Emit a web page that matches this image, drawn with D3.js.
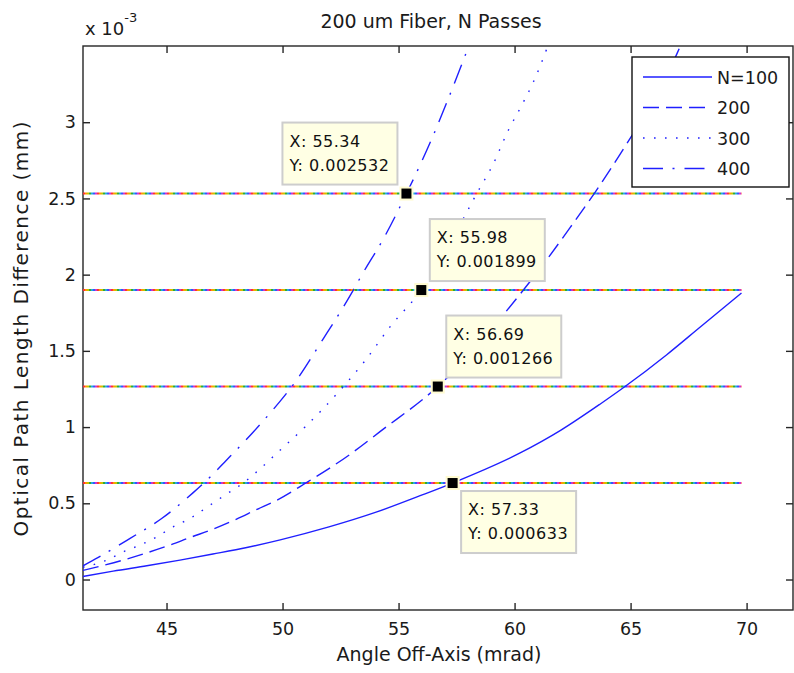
<!DOCTYPE html>
<html>
<head>
<meta charset="utf-8">
<script src="https://cdn.jsdelivr.net/npm/d3@7/dist/d3.min.js"></script>
<style>
  body { margin: 0; background: #fff; }
  svg { display: block; font-family: "DejaVu Sans", sans-serif; }
</style>
</head>
<body>
<svg id="chart" width="794" height="673"></svg>
<script>
// ---- data -------------------------------------------------------------
const xTicks = [45, 50, 55, 60, 65, 70];
const yTicks = [0, 0.0005, 0.001, 0.0015, 0.002, 0.0025, 0.003];
const yTickLabels = ["0", "0.5", "1", "1.5", "2", "2.5", "3"];
const xDomain = [41.4, 72];
const yDomain = [-0.0002, 0.0035];

const seriesNames = ["N=100", "200", "300", "400"];

// angle off-axis (mrad) and optical path length difference (mm)
const angle100 = [41.4, 42.7, 44.15, 45.58, 47.0, 48.46, 49.9, 52.0, 54.0, 55.93, 57.33, 60.24, 62.0, 63.68, 64.76, 66.56, 67.99, 69.78];
const opd100   = [0.00002, 0.000055, 0.00009, 0.000127, 0.000167, 0.00021, 0.00026, 0.000345, 0.00044, 0.00055, 0.000633, 0.00083, 0.00098, 0.00115, 0.001266, 0.001475, 0.001655, 0.00188];

const angle200 = [41.4, 42.2, 43.3, 44.15, 45.15, 46.0, 47.0, 48.0, 48.9, 49.75, 51.0, 52.9, 54.2, 56.69, 58.0, 59.45, 61.3, 62.4, 63.47, 64.84, 66.0, 67.0, 67.2];
const opd200   = [0.00006, 0.00009, 0.000135, 0.000175, 0.000226, 0.000275, 0.00033, 0.000395, 0.00046, 0.00052, 0.000633, 0.00082, 0.00097, 0.001266, 0.001463, 0.001724, 0.00208, 0.00231, 0.00254, 0.00286, 0.00315, 0.00345, 0.00352];

const angle300 = [41.4, 42.42, 43.14, 43.86, 44.58, 45.29, 46.01, 46.73, 47.45, 48.3, 49.9, 50.97, 51.69, 52.62, 53.55, 54.63, 55.98, 57.2, 58.37, 59.09, 59.73, 60.31, 60.81, 61.39, 61.5];
const opd300   = [0.00008, 0.000127, 0.000182, 0.000226, 0.00028, 0.000346, 0.0004, 0.000473, 0.000547, 0.000633, 0.000849, 0.001001, 0.001111, 0.001266, 0.001434, 0.001657, 0.001899, 0.0022, 0.002532, 0.002729, 0.002947, 0.003111, 0.003264, 0.003483, 0.00353];

const angle400 = [41.4, 42.06, 43.43, 44.79, 46.15, 46.88, 47.5, 48.74, 50.11, 50.4, 51.76, 52.62, 53.05, 53.41, 54.4, 55.34, 55.93, 56.5, 57.08, 57.65, 58.0, 58.1];
const opd400   = [0.00009, 0.000145, 0.00027, 0.0004, 0.00057, 0.000673, 0.00077, 0.000968, 0.00121, 0.001266, 0.001581, 0.001788, 0.001899, 0.001996, 0.00225, 0.002532, 0.00272, 0.002915, 0.00313, 0.00335, 0.00349, 0.00353];

// data cursors and the matching constant levels
const tipX = [57.33, 56.69, 55.98, 55.34];
const tipY = [0.000633, 0.001266, 0.001899, 0.002532];
const levelStart = 41.4;
const levelEnd = 69.78;

// ---- layout -----------------------------------------------------------
const plot = { left: 83, right: 793, top: 46, bottom: 610 };
const dashes = [null, "16,7", "1.6,9.4", "20,9.5,2,10"];
// box anchor relative to the marked point: [dx sign, dy sign]
const tipPlacement = [[1, 1], [1, -1], [1, -1], [-1, -1]];
const tipBox = { w: 115, h: 62 };
const rainbow = ["#ff3333", "#ff9900", "#c8c400", "#33aa33", "#22aadd", "#3355ff", "#cc33cc"];

const svg = d3.select("#chart");
const x = d3.scaleLinear().domain(xDomain).range([plot.left, plot.right]);
const y = d3.scaleLinear().domain(yDomain).range([plot.bottom, plot.top]);

const axisColor = "#262626";
const tickFont = 17.5;

// axes
const gx = svg.append("g").attr("transform", `translate(0,${plot.bottom})`)
  .call(d3.axisBottom(x).tickValues(xTicks).tickFormat(d3.format("d"))
    .tickSizeInner(-7).tickSizeOuter(0).tickPadding(13));
const gxTop = svg.append("g").attr("transform", `translate(0,${plot.top})`)
  .call(d3.axisTop(x).tickValues(xTicks).tickFormat("")
    .tickSizeInner(-7).tickSizeOuter(0));
const gy = svg.append("g").attr("transform", `translate(${plot.left},0)`)
  .call(d3.axisLeft(y).tickValues(yTicks).tickFormat((d, i) => yTickLabels[i])
    .tickSizeInner(-7).tickSizeOuter(0).tickPadding(7));
const gyRight = svg.append("g").attr("transform", `translate(${plot.right},0)`)
  .call(d3.axisRight(y).tickValues(yTicks).tickFormat("")
    .tickSizeInner(-7).tickSizeOuter(0));

[gx, gxTop, gy, gyRight].forEach(g => {
  g.select(".domain").remove();
  g.selectAll(".tick line").attr("stroke", axisColor).attr("stroke-width", 1.4);
  g.selectAll(".tick text").attr("fill", "#1a1a1a")
    .attr("font-family", "DejaVu Sans").attr("font-size", tickFont);
});

svg.append("rect")
  .attr("x", plot.left).attr("y", plot.top)
  .attr("width", plot.right - plot.left).attr("height", plot.bottom - plot.top)
  .attr("fill", "none").attr("stroke", axisColor).attr("stroke-width", 1.4);

// clip region for the data
svg.append("clipPath").attr("id", "plotClip")
  .append("rect")
  .attr("x", plot.left).attr("y", plot.top)
  .attr("width", plot.right - plot.left).attr("height", plot.bottom - plot.top);

const dataLayer = svg.append("g").attr("clip-path", "url(#plotClip)");

// constant levels drawn with a multicoloured dotted pattern
tipY.forEach(level => {
  rainbow.forEach((c, i) => {
    dataLayer.append("line")
      .attr("x1", x(levelStart)).attr("x2", x(levelEnd))
      .attr("y1", y(level)).attr("y2", y(level))
      .attr("stroke", c).attr("stroke-width", 2)
      .attr("stroke-dasharray", `2,${2 * (rainbow.length - 1)}`)
      .attr("stroke-dashoffset", -2 * i);
  });
});

// curves
const curveData = [
  d3.zip(angle100, opd100),
  d3.zip(angle200, opd200),
  d3.zip(angle300, opd300),
  d3.zip(angle400, opd400)
];
const line = d3.line().x(d => x(d[0])).y(d => y(d[1])).curve(d3.curveMonotoneX);
const curveColor = "#1f1fff";

curveData.forEach((pts, i) => {
  dataLayer.append("path")
    .attr("d", line(pts))
    .attr("fill", "none")
    .attr("stroke", curveColor)
    .attr("stroke-width", 1.4)
    .attr("stroke-dasharray", dashes[i]);
});

// title and axis labels
svg.append("text")
  .attr("x", 431).attr("y", 28)
  .attr("text-anchor", "middle").attr("font-size", 19).attr("fill", "#1a1a1a")
  .text("200 um Fiber, N Passes");

svg.append("text")
  .attr("x", 439).attr("y", 661)
  .attr("text-anchor", "middle").attr("font-size", 19).attr("fill", "#1a1a1a")
  .text("Angle Off-Axis (mrad)");

svg.append("text")
  .attr("transform", "translate(28,329) rotate(-90)")
  .attr("text-anchor", "middle").attr("font-size", 20).attr("fill", "#1a1a1a")
  .attr("textLength", 415).attr("lengthAdjust", "spacing")
  .text("Optical Path Length Difference (mm)");

// exponent marker
const expo = svg.append("text").attr("x", 85).attr("y", 35)
  .attr("font-size", 18).attr("fill", "#1a1a1a");
expo.append("tspan").text("x 10");
expo.append("tspan").attr("dy", -13).attr("font-size", 13).text("-3");

// legend
const legend = svg.append("g");
const lg = { x: 632, y: 57, w: 157, h: 130 };
legend.append("rect")
  .attr("x", lg.x).attr("y", lg.y).attr("width", lg.w).attr("height", lg.h)
  .attr("fill", "#fff").attr("stroke", "#111").attr("stroke-width", 1.4);
seriesNames.forEach((name, i) => {
  const cy = lg.y + 20 + i * 30.5;
  legend.append("line")
    .attr("x1", lg.x + 11).attr("x2", lg.x + 80)
    .attr("y1", cy).attr("y2", cy)
    .attr("stroke", curveColor).attr("stroke-width", 1.4)
    .attr("stroke-dasharray", dashes[i]);
  legend.append("text")
    .attr("x", lg.x + 85).attr("y", cy + 6.5)
    .attr("font-size", tickFont).attr("fill", "#1a1a1a")
    .text(name);
});

// data cursor boxes
const tipLayer = svg.append("g");
tipX.forEach((tx, i) => {
  const px = x(tx), py = y(tipY[i]);
  const [sx, sy] = tipPlacement[i];
  const bx = sx > 0 ? px + 8.5 : px - 9 - tipBox.w;
  const by = sy > 0 ? py + 8 : py - 9 - tipBox.h;
  tipLayer.append("rect")
    .attr("x", bx).attr("y", by).attr("width", tipBox.w).attr("height", tipBox.h)
    .attr("fill", "#ffffe4").attr("stroke", "#cdcdcd").attr("stroke-width", 2);
  tipLayer.append("text")
    .attr("x", bx + 7).attr("y", by + 24)
    .attr("font-size", 16).attr("letter-spacing", 0.5).attr("fill", "#111")
    .text(`X: ${tx.toFixed(2)}`);
  tipLayer.append("text")
    .attr("x", bx + 7).attr("y", by + 48)
    .attr("font-size", 16).attr("letter-spacing", 0.5).attr("fill", "#111")
    .text(`Y: ${tipY[i].toFixed(6)}`);
  tipLayer.append("rect")
    .attr("x", px - 6).attr("y", py - 6).attr("width", 12).attr("height", 12)
    .attr("fill", "#000").attr("stroke", "#fffbd0").attr("stroke-width", 2);
});
</script>
</body>
</html>
